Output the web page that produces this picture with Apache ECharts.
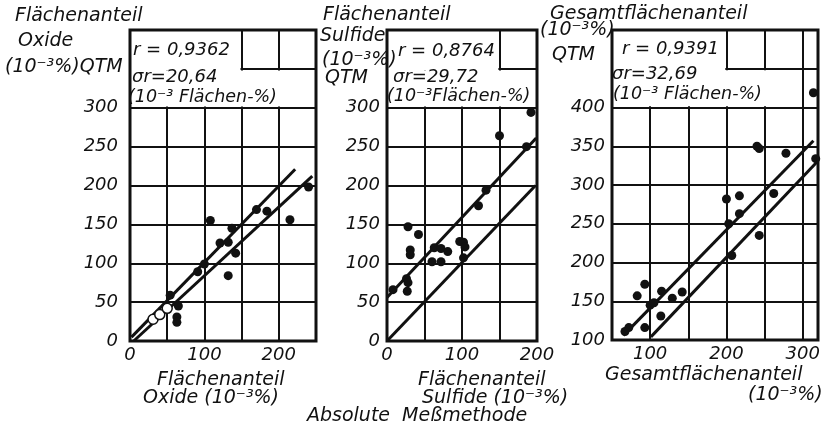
<!DOCTYPE html>
<html>
<head>
<meta charset="utf-8">
<script src="https://cdn.jsdelivr.net/npm/echarts@6/dist/echarts.min.js"></script>
<style>
  html, body { margin: 0; padding: 0; background: #fff; }
  #chart { width: 824px; height: 429px; }
</style>
</head>
<body>
<div id="chart"></div>
<script>
// Oxide area fraction: absolute method (x) vs. QTM (y), 10^-3 %
const oxideX = [240, 170, 184, 215, 108, 137, 121, 132, 142, 132, 100, 91, 54, 65, 63, 63];
const oxideY = [198, 169, 167, 156, 155, 145, 126, 127, 113, 84, 99, 89, 59, 45, 31, 24];
const oxideOpenX = [31, 40, 50];
const oxideOpenY = [28, 34, 42];
const oxideUpperLine = [[2, 5], [222, 221]];
const oxideLowerLine = [[5, 0], [245, 212]];

// Sulfide area fraction
const sulfideX = [192, 150, 186, 132, 122, 28, 42, 31, 31, 63, 72, 81, 97, 102, 104, 60, 72, 102, 26, 28, 27, 8];
const sulfideY = [294, 264, 250, 194, 174, 147, 137, 117, 111, 120, 119, 115, 128, 127, 121, 102, 102, 107, 80, 75, 64, 66];
const sulfideUpperLine = [[0, 56], [199, 261]];
const sulfideLowerLine = [[0, 0], [198, 200]];

// Total area fraction
const totalX = [314, 240, 243, 278, 317, 262, 200, 217, 217, 203, 243, 207, 93, 83, 115, 142, 129, 100, 105, 114, 93, 72, 67];
const totalY = [419, 350, 347, 341, 334, 289, 282, 286, 263, 250, 235, 209, 172, 157, 163, 162, 154, 145, 148, 131, 116, 116, 111];
const totalUpperLine = [[65, 106], [314, 357]];
const totalLowerLine = [[101, 104], [318, 329]];

// Axis ranges and tick steps
const oxideXRange = [0, 250], oxideYRange = [0, 400];
const sulfideXRange = [0, 200], sulfideYRange = [0, 400];
const totalXRange = [50, 320], totalYRange = [100, 500];
const tickStep = 50;

const FONT = '"DejaVu Sans", sans-serif';
const INK = '#111';

const pairs = (xs, ys) => xs.map((x, i) => [x, ys[i]]);

function xAxisFor(gi, range, labelOk) {
  return {
    gridIndex: gi, type: 'value', min: range[0], max: range[1], interval: tickStep,
    axisLine: { show: false }, axisTick: { show: false },
    splitLine: { show: true, lineStyle: { color: INK, width: 2 } },
    axisLabel: {
      margin: 5, color: INK, fontFamily: FONT, fontStyle: 'italic', fontSize: 18,
      formatter: v => (labelOk(v) ? String(v) : '')
    }
  };
}
function yAxisFor(gi, range, labelOk, margin) {
  return {
    gridIndex: gi, type: 'value', min: range[0], max: range[1], interval: tickStep,
    axisLine: { show: false }, axisTick: { show: false },
    splitLine: { show: true, lineStyle: { color: INK, width: 2 } },
    axisLabel: {
      margin: margin, color: INK, fontFamily: FONT, fontStyle: 'italic', fontSize: 18,
      formatter: v => (labelOk(v) ? String(v) : '')
    }
  };
}

// White panel behind the statistics text (L-shaped, in data units)
function statBox(xMin, xMid, xWide, yLow, ySplit, yTop) {
  return {
    silent: true,
    itemStyle: { color: '#fff', opacity: 1, borderWidth: 0 },
    label: { show: false },
    data: [
      [{ xAxis: xMin, yAxis: ySplit }, { xAxis: xMid, yAxis: yTop }],
      [{ xAxis: xMin, yAxis: yLow }, { xAxis: xWide, yAxis: ySplit }]
    ]
  };
}

function dots(gi, data, extra) {
  return Object.assign({
    type: 'scatter', xAxisIndex: gi, yAxisIndex: gi, data: data,
    symbol: 'circle', symbolSize: 9, itemStyle: { color: INK, opacity: 1 }, z: 4
  }, extra || {});
}
function fitLine(gi, data) {
  return {
    type: 'line', xAxisIndex: gi, yAxisIndex: gi, data: data,
    symbol: 'none', lineStyle: { color: INK, width: 3, opacity: 1 }, z: 3
  };
}

const txt = (text, x, y, size) => ({
  type: 'text', z: 20,
  style: { text: text, x: x, y: y, fill: INK, font: 'italic ' + (size || 19) + 'px ' + FONT, verticalAlign: 'middle' }
});

const gridBase = { show: true, borderColor: INK, borderWidth: 3, backgroundColor: 'transparent', z: 10 };

const option = {
  animation: false,
  backgroundColor: '#fff',
  grid: [
    Object.assign({ left: 130, top: 30, width: 186, height: 311 }, gridBase),
    Object.assign({ left: 387, top: 30, width: 150, height: 311 }, gridBase),
    Object.assign({ left: 612, top: 30, width: 206, height: 310 }, gridBase)
  ],
  xAxis: [
    xAxisFor(0, oxideXRange, v => v % 100 === 0),
    xAxisFor(1, sulfideXRange, v => v % 100 === 0),
    xAxisFor(2, totalXRange, v => v % 100 === 0)
  ],
  yAxis: [
    yAxisFor(0, oxideYRange, v => v <= 300, 12),
    yAxisFor(1, sulfideYRange, v => v <= 300, 7),
    yAxisFor(2, totalYRange, v => v <= 400, 7)
  ],
  series: [
    dots(0, pairs(oxideX, oxideY), { markArea: statBox(0, 148.5, 205, 301.5, 348, 400) }),
    dots(0, pairs(oxideOpenX, oxideOpenY), { symbolSize: 10, itemStyle: { color: '#fff', borderColor: INK, borderWidth: 1.5, opacity: 1 } }),
    fitLine(0, oxideUpperLine),
    fitLine(0, oxideLowerLine),
    dots(1, pairs(sulfideX, sulfideY), { markArea: statBox(0, 148.5, 200, 301.5, 348, 400) }),
    fitLine(1, sulfideUpperLine),
    fitLine(1, sulfideLowerLine),
    dots(2, pairs(totalX, totalY), { markArea: statBox(50, 198.5, 265, 401.5, 448, 500) }),
    fitLine(2, totalUpperLine),
    fitLine(2, totalLowerLine)
  ],
  graphic: [
    // vertical axis titles
    txt('Flächenanteil', 15, 16),
    txt('Oxide', 18, 41),
    txt('(10⁻³%)QTM', 5, 67),
    txt('Flächenanteil', 323, 15),
    txt('Sulfide', 320, 36),
    txt('(10⁻³%)', 322, 60),
    txt('QTM', 325, 78),
    txt('Gesamtflächenanteil', 550, 14),
    txt('(10⁻³%)', 540, 30),
    txt('QTM', 552, 55),
    // correlation statistics
    txt('r = 0,9362', 133, 50, 18),
    txt('σr=20,64', 132, 77, 18),
    txt('(10⁻³ Flächen-%)', 128, 97, 17.5),
    txt('r = 0,8764', 398, 51, 18),
    txt('σr=29,72', 393, 77, 18),
    txt('(10⁻³Flächen-%)', 387, 96, 17.5),
    txt('r = 0,9391', 622, 49, 18),
    txt('σr=32,69', 612, 74, 18),
    txt('(10⁻³ Flächen-%)', 613, 94, 17.5),
    // horizontal axis titles
    txt('Flächenanteil', 157, 380),
    txt('Oxide (10⁻³%)', 143, 398),
    txt('Flächenanteil', 418, 380),
    txt('Sulfide (10⁻³%)', 422, 398),
    txt('Absolute  Meßmethode', 307, 416),
    txt('Gesamtflächenanteil', 605, 375),
    txt('(10⁻³%)', 748, 395)
  ]
};

const chart = echarts.init(document.getElementById('chart'), null, { renderer: 'canvas' });
chart.setOption(option);
</script>
</body>
</html>
